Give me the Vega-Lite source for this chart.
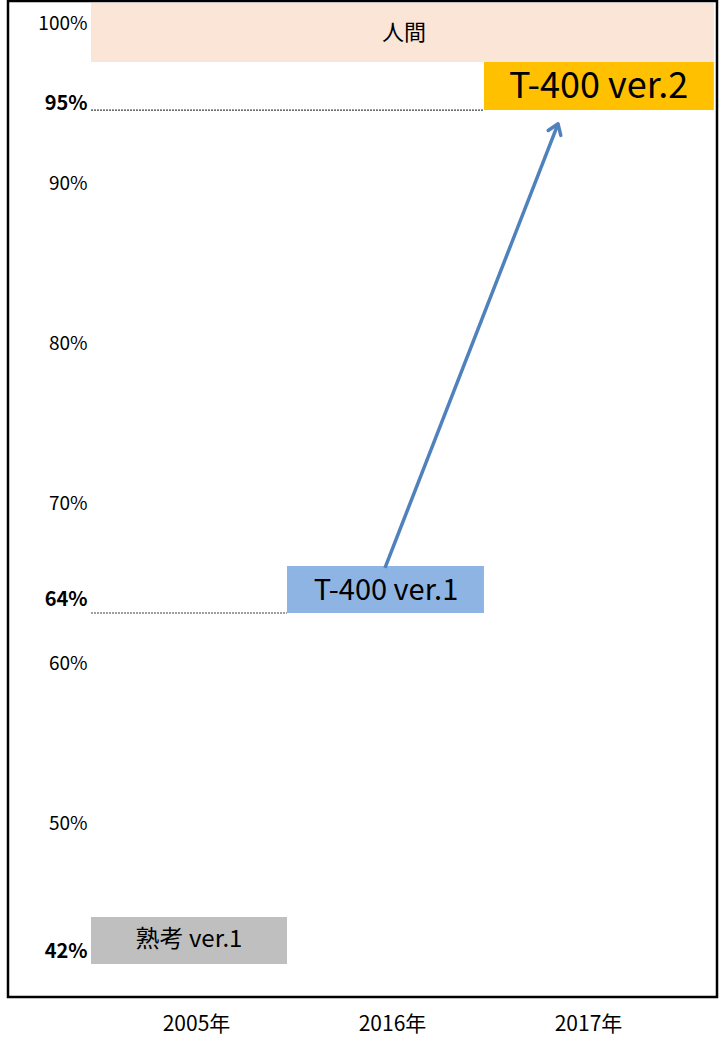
{
  "$schema": "https://vega.github.io/schema/vega-lite/v6.json",
  "width": 709,
  "height": 996,
  "autosize": {"type": "none"},
  "padding": {"left": 8, "top": 1, "right": 2, "bottom": 52},
  "background": "white",
  "config": {"view": {"stroke": "black", "strokeWidth": 2.5}, "axis": {"grid": false}},
  "datasets": {
    "boxes": [
      {"name": "人間", "x0": 0, "x1": 3.178, "low": 98.06, "high": 101.75, "lx": 1.597, "ly": 99.875, "size": 22, "weight": "normal"},
      {"name": "T-400 ver.2", "x0": 2.005, "x1": 3.178, "low": 95.06, "high": 98.06, "lx": 2.59, "ly": 96.5, "size": 36, "weight": "bold"},
      {"name": "T-400 ver.1", "x0": 1.0, "x1": 2.005, "low": 63.625, "high": 66.56, "lx": 1.505, "ly": 65.0, "size": 29, "weight": "normal"},
      {"name": "熟考  ver.1", "x0": 0, "x1": 1.0, "low": 41.69, "high": 44.625, "lx": 0.5, "ly": 43.2, "size": 24, "weight": "normal"}
    ],
    "rules": [
      {"v": 95.06, "x0": 0, "x1": 2.005},
      {"v": 63.625, "x0": 0, "x1": 1.0}
    ],
    "arrow": [
      {"u": 1.5, "v": 66.45, "tip": false},
      {"u": 2.383, "v": 94.2, "tip": true}
    ]
  },
  "layer": [
    {
      "data": {"name": "boxes"},
      "mark": {"type": "rect"},
      "encoding": {
        "x": {
          "field": "x0", "type": "quantitative",
          "scale": {"domain": [-0.4235, 3.194], "nice": false, "zero": false},
          "axis": {
            "title": null, "values": [0.5, 1.5, 2.5],
            "labelExpr": "datum.value < 1 ? '2005年' : datum.value < 2 ? '2016年' : '2017年'",
            "domain": false, "ticks": false, "labelPadding": 16, "labelOffset": 7,
            "labelFont": "Liberation Sans Narrow, Noto Sans CJK JP", "labelFontSize": 21, "labelColor": "black"
          }
        },
        "x2": {"field": "x1"},
        "y": {
          "field": "low", "type": "quantitative",
          "scale": {"domain": [39.625, 101.875], "nice": false, "zero": false},
          "axis": {
            "title": null, "values": [100, 95, 90, 80, 70, 64, 60, 50, 42],
            "labelExpr": "datum.value + '%'",
            "domain": false, "ticks": false, "offset": -80, "labelPadding": 1, "labelOffset": -8,
            "labelFont": "Liberation Sans Narrow, Noto Sans CJK JP",
            "labelFontSize": {"condition": {"test": "indexof([95,64,42], datum.value) >= 0", "value": 20}, "value": 19},
            "labelFontWeight": {"condition": {"test": "indexof([95,64,42], datum.value) >= 0", "value": "bold"}, "value": "normal"},
            "labelColor": "black", "labelBaseline": "middle"
          }
        },
        "y2": {"field": "high"},
        "color": {
          "field": "name", "type": "nominal", "legend": null,
          "scale": {"domain": ["人間", "T-400 ver.2", "T-400 ver.1", "熟考  ver.1"], "range": ["#fbe5d6", "#ffc000", "#8eb4e3", "#bfbfbf"]}
        }
      }
    },
    {
      "data": {"name": "boxes"},
      "mark": {"type": "text", "font": "Noto Sans CJK JP", "baseline": "middle", "align": "center", "color": "black"},
      "encoding": {
        "x": {"field": "lx", "type": "quantitative"},
        "y": {"field": "ly", "type": "quantitative"},
        "text": {"field": "name"},
        "size": {"field": "size", "type": "quantitative", "scale": null},
        "fontWeight": {"field": "weight"}
      }
    },
    {
      "data": {"name": "rules"},
      "mark": {"type": "rule", "color": "#404040", "strokeWidth": 1.2, "strokeDash": [2, 1]},
      "encoding": {
        "x": {"field": "x0", "type": "quantitative"},
        "x2": {"field": "x1"},
        "y": {"field": "v", "type": "quantitative"}
      }
    },
    {
      "data": {"name": "arrow"},
      "mark": {"type": "line", "color": "#4f81bd", "strokeWidth": 3.5},
      "encoding": {
        "x": {"field": "u", "type": "quantitative"},
        "y": {"field": "v", "type": "quantitative"}
      }
    },
    {
      "data": {"name": "arrow"},
      "transform": [{"filter": "datum.tip"}],
      "mark": {"type": "point", "shape": "M-0.55,0.8L0,0L0.55,0.8", "filled": false, "stroke": "#4f81bd", "strokeWidth": 3.5, "size": 600, "angle": 21.3, "opacity": 1, "strokeCap": "round", "strokeJoin": "round"},
      "encoding": {
        "x": {"field": "u", "type": "quantitative"},
        "y": {"field": "v", "type": "quantitative"}
      }
    }
  ]
}
